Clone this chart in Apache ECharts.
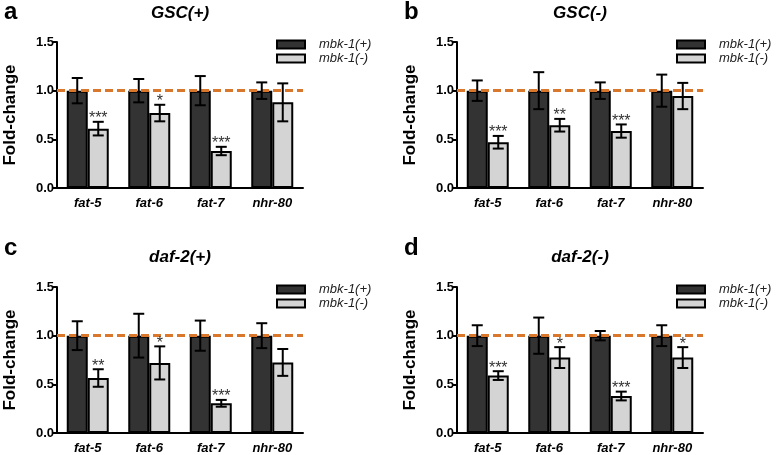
<!DOCTYPE html>
<html>
<head>
<meta charset="utf-8">
<script src="https://cdn.jsdelivr.net/npm/echarts@6/dist/echarts.min.js"></script>
<style>
  html, body { margin: 0; padding: 0; background: #fff; }
  #chart { width: 777px; height: 455px; }
</style>
</head>
<body>
<div id="chart"></div>
<script>
// values
const categories = ['fat-5', 'fat-6', 'fat-7', 'nhr-80'];
const seriesNames = ['mbk-1(+)', 'mbk-1(-)'];
const panelTitles = ['GSC(+)', 'GSC(-)', 'daf-2(+)', 'daf-2(-)'];
const panelLetters = ['a', 'b', 'c', 'd'];
const yTicks = [0, 0.5, 1.0, 1.5];

const aPlus = [1.0, 1.0, 1.0, 1.0];
const aPlusErr = [0.13, 0.12, 0.15, 0.085];
const aMinus = [0.61, 0.77, 0.38, 0.88];
const aMinusErr = [0.07, 0.085, 0.043, 0.195];
const aStars = ['***', '*', '***', ''];

const bPlus = [1.0, 1.0, 1.0, 1.0];
const bPlusErr = [0.105, 0.19, 0.085, 0.165];
const bMinus = [0.47, 0.645, 0.585, 0.945];
const bMinusErr = [0.065, 0.065, 0.068, 0.135];
const bStars = ['***', '**', '***', ''];

const cPlus = [1.0, 1.0, 1.0, 1.0];
const cPlusErr = [0.148, 0.225, 0.155, 0.128];
const cMinus = [0.565, 0.72, 0.305, 0.725];
const cMinusErr = [0.09, 0.17, 0.035, 0.138];
const cStars = ['**', '*', '***', ''];

const dPlus = [1.0, 1.0, 1.0, 1.0];
const dPlusErr = [0.107, 0.186, 0.048, 0.107];
const dMinus = [0.59, 0.775, 0.38, 0.775];
const dMinusErr = [0.045, 0.107, 0.045, 0.107];
const dStars = ['***', '*', '***', '*'];

const panels = [
  { plus: aPlus, plusErr: aPlusErr, minus: aMinus, minusErr: aMinusErr, stars: aStars },
  { plus: bPlus, plusErr: bPlusErr, minus: bMinus, minusErr: bMinusErr, stars: bStars },
  { plus: cPlus, plusErr: cPlusErr, minus: cMinus, minusErr: cMinusErr, stars: cStars },
  { plus: dPlus, plusErr: dPlusErr, minus: dMinus, minusErr: dMinusErr, stars: dStars }
];

// layout
const gridPos = [
  { left: 57, top: 42 },
  { left: 457, top: 42 },
  { left: 57, top: 287 },
  { left: 457, top: 287 }
];
const titleTop = [5, 5, 249, 249];
const letterTop = [0, 0, 236, 236];
const GW = 246, GH = 146, BAR_W = 21;
const FONT = 'Liberation Sans, Arial, sans-serif';
const colors = ['#333333', '#d4d4d4'];

function errRenderer(stars) {
  return function (params, api) {
    const i = api.value(0), mean = api.value(1), err = api.value(2), side = api.value(3);
    const c = api.coord([i, mean]);
    const x = c[0] + (side === 0 ? -BAR_W / 2 : BAR_W / 2);
    const top = api.coord([i, mean + err])[1];
    const bot = api.coord([i, mean - err])[1];
    const cap = 5.5;
    const st = { stroke: '#000', lineWidth: 2 };
    const children = [
      { type: 'line', shape: { x1: x, y1: top, x2: x, y2: bot }, style: st },
      { type: 'line', shape: { x1: x - cap, y1: top, x2: x + cap, y2: top }, style: st },
      { type: 'line', shape: { x1: x - cap, y1: bot, x2: x + cap, y2: bot }, style: st }
    ];
    if (side === 1 && stars[i]) {
      children.push({
        type: 'text',
        style: {
          x: x, y: top - 3, text: stars[i], fill: '#333',
          font: '16px ' + FONT, align: 'center', verticalAlign: 'middle'
        }
      });
    }
    return { type: 'group', children: children };
  };
}

const grid = [], xAxis = [], yAxis = [], series = [], legend = [], title = [];

panels.forEach(function (p, k) {
  const g = gridPos[k];
  grid.push({ left: g.left, top: g.top, width: GW, height: GH, containLabel: false });

  xAxis.push({
    type: 'category', gridIndex: k, data: categories,
    axisLine: { lineStyle: { color: '#000', width: 2 } },
    axisTick: { alignWithLabel: true, length: 5, lineStyle: { color: '#000', width: 2 } },
    axisLabel: { color: '#000', fontFamily: FONT, fontSize: 13, fontWeight: 'bold', fontStyle: 'italic', margin: 9 }
  });

  yAxis.push({
    type: 'value', gridIndex: k, min: 0, max: 1.5, interval: 0.5,
    name: 'Fold-change', nameLocation: 'middle', nameGap: 38,
    nameTextStyle: { color: '#000', fontFamily: FONT, fontSize: 17, fontWeight: 'bold' },
    splitLine: { show: false },
    axisLine: { show: true, lineStyle: { color: '#000', width: 2 } },
    axisTick: { show: true, length: 5, lineStyle: { color: '#000', width: 2 } },
    axisLabel: {
      color: '#000', fontFamily: FONT, fontSize: 13, fontWeight: 'bold', margin: 3,
      formatter: function (v) { return yTicks.indexOf(v) >= 0 ? v.toFixed(1) : ''; }
    }
  });

  series.push({
    name: seriesNames[0], type: 'bar', xAxisIndex: k, yAxisIndex: k,
    data: p.plus, barWidth: BAR_W, barGap: '0%',
    itemStyle: { color: colors[0], borderColor: '#000', borderWidth: 2 },
    emphasis: { disabled: true }
  });
  series.push({
    name: seriesNames[1], type: 'bar', xAxisIndex: k, yAxisIndex: k,
    data: p.minus, barWidth: BAR_W, barGap: '0%',
    itemStyle: { color: colors[1], borderColor: '#000', borderWidth: 2 },
    emphasis: { disabled: true },
    markLine: {
      silent: true, symbol: 'none', animation: false,
      label: { show: false },
      lineStyle: { color: '#d9782d', width: 3, type: [8, 4] },
      data: [{ yAxis: 1 }]
    }
  });

  const errData = [];
  categories.forEach(function (c, i) {
    errData.push([i, p.plus[i], p.plusErr[i], 0]);
    errData.push([i, p.minus[i], p.minusErr[i], 1]);
  });
  series.push({
    type: 'custom', xAxisIndex: k, yAxisIndex: k, z: 5,
    data: errData, renderItem: errRenderer(p.stars), silent: true
  });

  legend.push({
    data: seriesNames, orient: 'vertical',
    left: g.left + 219, top: g.top - 4, padding: 0,
    itemWidth: 28, itemHeight: 8, itemGap: 1,
    icon: 'rect',
    textStyle: { color: '#222', fontFamily: FONT, fontSize: 13, fontStyle: 'italic', padding: [0, 0, 0, 9] }
  });

  title.push({
    text: panelTitles[k], left: g.left + GW / 2, top: titleTop[k], textAlign: 'center', padding: 0,
    textStyle: { color: '#000', fontFamily: FONT, fontSize: 17, fontWeight: 'bold', fontStyle: 'italic' }
  });
  title.push({
    text: panelLetters[k], left: g.left - 53, top: letterTop[k], padding: 0,
    textStyle: { color: '#000', fontFamily: FONT, fontSize: 24, fontWeight: 'bold' }
  });
});

const chart = echarts.init(document.getElementById('chart'), null, { renderer: 'canvas' });
chart.setOption({
  animation: false,
  backgroundColor: '#fff',
  title: title,
  legend: legend,
  grid: grid,
  xAxis: xAxis,
  yAxis: yAxis,
  series: series
});
</script>
</body>
</html>
